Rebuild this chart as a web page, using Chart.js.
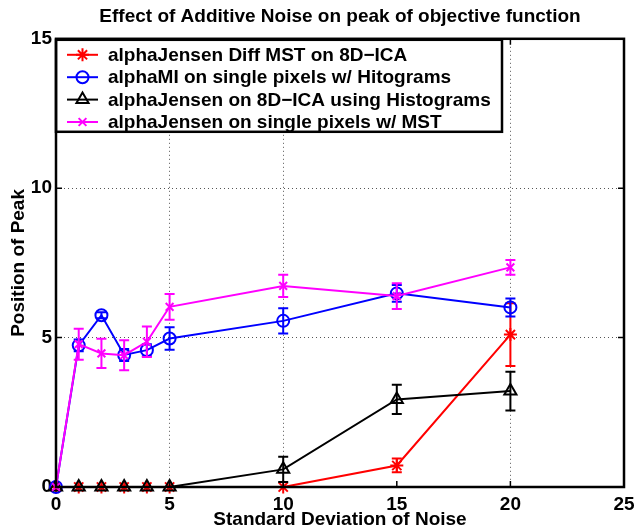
<!DOCTYPE html>
<html>
<head>
<meta charset="utf-8">
<script src="https://cdn.jsdelivr.net/npm/chart.js"></script>
<style>
  body { margin: 0; background: #fff; }
  canvas { display: block; }
</style>
</head>
<body>
<canvas id="chart" width="634" height="531"></canvas>
<script>
// noise levels on the x axis
const noiseLevels = [0, 1, 2, 3, 4, 5, 10, 15, 20];

// position of peak, one array per method, with half-width of the error bar
const jensenDiffMst = [0, 0, 0, 0, 0, 0, 0, 0.72, 5.1];
const jensenDiffMstErr = [0, 0, 0, 0, 0, 0, 0, 0.23, 1.05];

const miPixelsHist = [0, 4.74, 5.75, 4.42, 4.58, 4.97, 5.56, 6.48, 6.01];
const miPixelsHistErr = [0, 0.2, 0.1, 0.2, 0.2, 0.38, 0.42, 0.28, 0.3];

const jensenIcaHist = [0, 0, 0, 0, 0, 0, 0.59, 2.93, 3.21];
const jensenIcaHistErr = [0, 0, 0, 0, 0, 0, 0.42, 0.49, 0.65];

const jensenPixelsMst = [0, 4.78, 4.47, 4.41, 4.86, 6.03, 6.73, 6.39, 7.35];
const jensenPixelsMstErr = [0, 0.52, 0.49, 0.5, 0.51, 0.43, 0.37, 0.43, 0.25];

const xTicks = [0, 5, 10, 15, 20, 25];
const yTicks = [0, 5, 10, 15];

const FONT = '"Liberation Sans", Arial, Helvetica, sans-serif';
Chart.defaults.font.family = FONT;
Chart.defaults.font.weight = 'bold';
Chart.defaults.font.size = 19;
Chart.defaults.color = '#000';

function series(label, values, errors, color, style, radius, order) {
    return {
        label: label,
        data: values.map((v, i) => ({ x: noiseLevels[i], y: v })),
        errors: errors,
        borderColor: color,
        backgroundColor: color,
        borderWidth: 2,
        pointStyle: style,
        pointRadius: radius,
        pointBorderColor: color,
        pointBackgroundColor: 'rgba(0,0,0,0)',
        pointBorderWidth: 2,
        tension: 0,
        clip: false,
        order: order
    };
}

const datasets = [
    series('alphaJensen Diff MST on 8D\u2212ICA', jensenDiffMst, jensenDiffMstErr, '#ff0000', 'star', 6.5, 4),
    series('alphaMI on single pixels w/ Hitograms', miPixelsHist, miPixelsHistErr, '#0000ff', 'circle', 6, 3),
    series('alphaJensen on 8D\u2212ICA using Histograms', jensenIcaHist, jensenIcaHistErr, '#000000', 'triangle', 7, 2),
    series('alphaJensen on single pixels w/ MST', jensenPixelsMst, jensenPixelsMstErr, '#ff00ff', 'crossRot', 5.5, 1)
];

// error bars, drawn right after each dataset so the stacking matches
const errorBars = {
    id: 'errorBars',
    afterDatasetDraw(chart, args) {
        const ds = chart.data.datasets[args.index];
        if (!ds.errors) return;
        const ctx = chart.ctx;
        const xs = chart.scales.x, ys = chart.scales.y;
        ctx.save();
        ctx.strokeStyle = ds.borderColor;
        ctx.lineWidth = 2;
        ds.data.forEach((p, i) => {
            const e = ds.errors[i];
            if (!e) return;
            const px = xs.getPixelForValue(p.x);
            const top = ys.getPixelForValue(p.y + e);
            const bot = ys.getPixelForValue(p.y - e);
            ctx.beginPath();
            ctx.moveTo(px, top); ctx.lineTo(px, bot);
            ctx.moveTo(px - 5, top); ctx.lineTo(px + 5, top);
            ctx.moveTo(px - 5, bot); ctx.lineTo(px + 5, bot);
            ctx.stroke();
        });
        ctx.restore();
    }
};

// matlab style box: inward ticks, legend inside, heavy frame
const matlabBox = {
    id: 'matlabBox',
    afterDatasetsDraw(chart) {
        const ctx = chart.ctx;
        const ca = chart.chartArea;
        const xs = chart.scales.x, ys = chart.scales.y;
        ctx.save();
        ctx.strokeStyle = '#000';
        ctx.lineWidth = 1.5;
        ctx.beginPath();
        xTicks.forEach(v => {
            const px = xs.getPixelForValue(v);
            ctx.moveTo(px, ca.bottom); ctx.lineTo(px, ca.bottom - 6);
            ctx.moveTo(px, ca.top); ctx.lineTo(px, ca.top + 6);
        });
        yTicks.forEach(v => {
            const py = ys.getPixelForValue(v);
            ctx.moveTo(ca.left, py); ctx.lineTo(ca.left + 6, py);
            ctx.moveTo(ca.right, py); ctx.lineTo(ca.right - 6, py);
        });
        ctx.stroke();

        // legend
        const bx = ca.left, by = ca.top + 1, bw = 446, bh = 92;
        ctx.fillStyle = '#fff';
        ctx.fillRect(bx, by, bw, bh);
        ctx.lineWidth = 2.5;
        ctx.strokeRect(bx, by, bw, bh);
        ctx.font = 'bold 19px ' + FONT;
        ctx.textBaseline = 'middle';
        ctx.textAlign = 'left';
        chart.data.datasets.forEach((ds, i) => {
            const y = by + 15 + i * 22.4;
            ctx.strokeStyle = ds.borderColor;
            ctx.lineWidth = 2;
            ctx.beginPath();
            ctx.moveTo(bx + 11, y); ctx.lineTo(bx + 42, y);
            ctx.stroke();
            ctx.fillStyle = 'rgba(0,0,0,0)';
            Chart.helpers.drawPoint(ctx, {
                pointStyle: ds.pointStyle,
                radius: ds.pointRadius,
                borderWidth: 2,
                rotation: 0
            }, bx + 26.5, y);
            ctx.fillStyle = '#000';
            ctx.fillText(ds.label, bx + 52, y + 1);
        });
        ctx.restore();
    },
    afterDraw(chart) {
        const ctx = chart.ctx;
        const ca = chart.chartArea;
        ctx.save();
        ctx.strokeStyle = '#000';
        ctx.lineWidth = 2.5;
        ctx.strokeRect(ca.left, ca.top, ca.right - ca.left, ca.bottom - ca.top);
        ctx.restore();
    }
};

const innerGrid = {
    color: c => (c.tick && (c.tick.value === 0 || c.tick.value === 25 || c.tick.value === 15)) ? 'rgba(0,0,0,0)' : '#555',
    lineWidth: 1,
    drawTicks: false
};

const chart = new Chart(document.getElementById('chart'), {
    type: 'line',
    data: { datasets: datasets },
    options: {
        responsive: false,
        animation: false,
        layout: { padding: { left: 0, right: 0, top: 0, bottom: 0 } },
        plugins: {
            legend: { display: false },
            tooltip: { enabled: false },
            title: {
                display: true,
                fullSize: false,
                text: 'Effect of Additive Noise on peak of objective function',
                font: { size: 19, weight: 'bold' },
                color: '#000',
                padding: { top: 5, bottom: 11 }
            }
        },
        scales: {
            x: {
                type: 'linear',
                min: 0,
                max: 25,
                afterFit: s => { s.height = 44; s.paddingRight = 10; s.paddingLeft = 0; },
                afterBuildTicks: s => { s.ticks = xTicks.map(v => ({ value: v })); },
                ticks: { padding: 6, maxRotation: 0, font: { size: 19, weight: 'bold' } },
                grid: innerGrid,
                border: { display: false, dash: [1, 3] },
                title: {
                    display: true,
                    text: 'Standard Deviation of Noise',
                    font: { size: 19, weight: 'bold' },
                    padding: { top: 0, bottom: 0 }
                }
            },
            y: {
                type: 'linear',
                min: 0,
                max: 15,
                afterFit: s => { s.width = 56; },
                afterBuildTicks: s => { s.ticks = yTicks.map(v => ({ value: v })); },
                ticks: { padding: 4, font: { size: 19, weight: 'bold' } },
                grid: innerGrid,
                border: { display: false, dash: [1, 3] },
                title: {
                    display: true,
                    text: 'Position of Peak',
                    font: { size: 19, weight: 'bold' },
                    padding: { top: 7, bottom: 0 }
                }
            }
        }
    },
    plugins: [errorBars, matlabBox]
});
</script>
</body>
</html>
